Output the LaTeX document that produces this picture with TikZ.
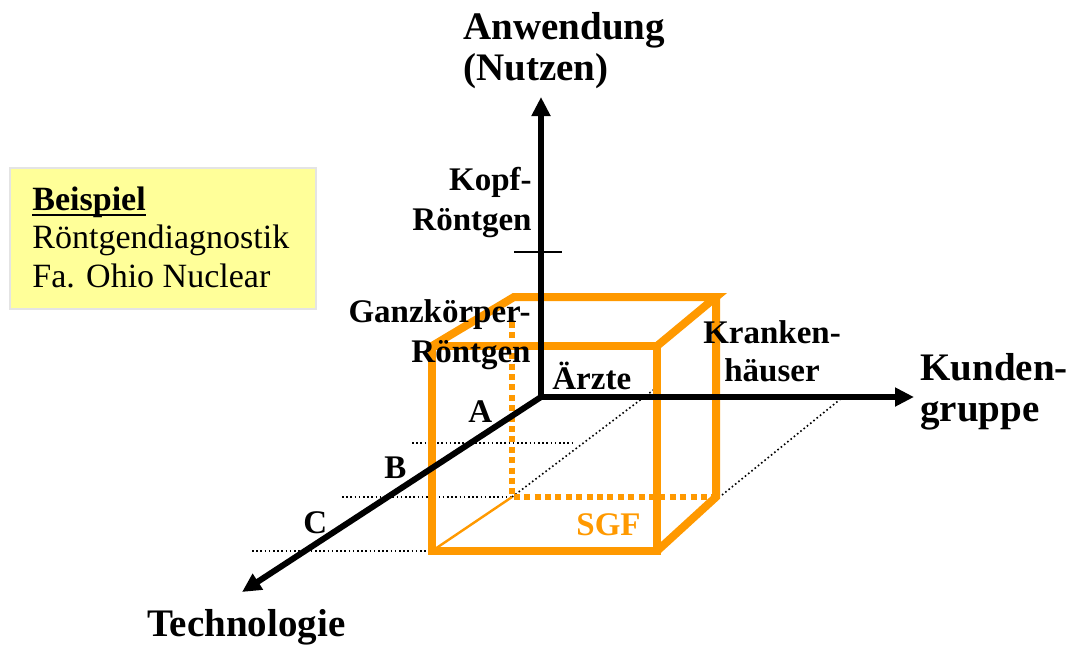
\documentclass[tikz,border=0pt]{standalone}
\usepackage{fontspec}
\setmainfont{Liberation Serif}
\usetikzlibrary{arrows.meta}
\definecolor{sgforange}{RGB}{255,153,0}
\definecolor{noteyellow}{RGB}{255,255,153}
\definecolor{noteframe}{RGB}{228,228,228}
\newcommand{\bigbold}{\fontsize{19.5}{20.5}\selectfont\bfseries}
\newcommand{\midbold}{\fontsize{16.5}{20}\selectfont\bfseries}
% heavier underline for the note heading
\newsavebox{\ulbox}
\newcommand{\heavyul}[1]{\sbox{\ulbox}{#1}\rlap{\rule[-3pt]{\wd\ulbox}{1.2pt}}\usebox{\ulbox}}
\begin{document}
\begin{tikzpicture}[x=0.5pt,y=-0.5pt,
  axis/.style={line width=3pt,-{Triangle[length=9.5pt,width=9pt]}},
  edge/.style={draw=sgforange,line width=4pt,line join=miter},
  hidden/.style={draw=sgforange,line width=3pt,dash pattern=on 3pt off 2.2pt},
  guide/.style={line width=0.8pt,dash pattern=on 0.8pt off 1.3pt},
  lbl/.style={inner sep=0pt,font=\midbold},
  big/.style={inner sep=0pt,font=\bigbold}]
\useasboundingbox (0,0) rectangle (1071,644);

% origin and axis end points
\coordinate (O) at (541,397);
\coordinate (up) at (541,97);
\coordinate (right) at (914,397);
\coordinate (front) at (242,592);
\coordinate (tickL) at (514,252);
\coordinate (tickR) at (562,252);

% cube corners (front face f, back face b)
\coordinate (f1) at (432,346);
\coordinate (f2) at (657,346);
\coordinate (f3) at (657,551);
\coordinate (f4) at (432,551);
\coordinate (b1) at (514,297);
\coordinate (b2) at (716,297);
\coordinate (b3) at (716,497);
\coordinate (b4) at (512,497);
\coordinate (b1h) at (512,322);

% dotted guide lines
\coordinate (gA1) at (412,443);
\coordinate (gA2) at (575,443);
\coordinate (gB1) at (342,497);
\coordinate (gC1) at (252,551);
\coordinate (d1) at (660,385);
\coordinate (d2a) at (722,495);
\coordinate (d2b) at (843,397);
\draw[guide] (gA1) -- (gA2);
\draw[guide] (gB1) -- (b4);
\draw[guide] (gC1) -- (f4);
\draw[guide] (b4) -- (d1);
\draw[guide] (d2a) -- (d2b);

% cube
\draw[hidden] (b1h) -- (b4) -- (b3);
\draw[draw=sgforange,line width=1.2pt] (f4) -- (b4);
\draw[edge] (f1) -- (f2) -- (f3) -- (f4) -- cycle;
\draw[edge] (f1) -- (b1) -- (b2) -- (f2);
\draw[edge] (b2) -- (b3) -- (f3);

% axes
\draw[axis] (O) -- (up);
\draw[axis] (O) -- (right);
\draw[axis] (O) -- (front);
\draw[line width=1pt] (tickL) -- (tickR);

% axis titles
\node[big,anchor=base west] (tAnw) at (463,39)
  {\begin{tabular}[t]{@{}l@{}}Anwendung\\(Nutzen)\end{tabular}};
\node[big,anchor=base west] (tKun) at (920,380)
  {\begin{tabular}[t]{@{}l@{}}Kunden-\\gruppe\end{tabular}};
\node[big,anchor=base west] (tTec) at (147,636) {Technologie};

% axis labels
\node[lbl,anchor=base east] (lKopf) at (532,190)
  {\begin{tabular}[t]{@{}r@{}}Kopf-\\Röntgen\end{tabular}};
\node[lbl,anchor=base east] (lGanz) at (531,322)
  {\begin{tabular}[t]{@{}r@{}}Ganzkörper-\\Röntgen\end{tabular}};
\node[lbl,anchor=base west] (lAerz) at (552,389) {Ärzte};
\node[lbl,anchor=base] (lKrank) at (772,343)
  {\fontsize{16.5}{19}\selectfont\begin{tabular}[t]{@{}c@{}}Kranken-\\häuser\end{tabular}};
\node[lbl,anchor=base west] (lA) at (468,422) {A};
\node[lbl,anchor=base west] (lB) at (384,478) {B};
\node[lbl,anchor=base west] (lC) at (303,533) {C};
\node[lbl,anchor=base west,text=sgforange] (lSGF) at (576,535) {SGF};

% example note
\node[draw=noteframe,line width=1pt,fill=noteyellow,inner sep=0pt,
  minimum width=153pt,minimum height=70.5pt,anchor=north west] (note) at (9,167) {};
\node[inner sep=0pt,anchor=base west,font=\fontsize{17}{19.3}\selectfont] (noteText) at (32,210)
  {\begin{tabular}[t]{@{}l@{}}\heavyul{\textbf{Beispiel}}\\Röntgendiagnostik\\Fa. Ohio Nuclear\end{tabular}};
\end{tikzpicture}
\end{document}
